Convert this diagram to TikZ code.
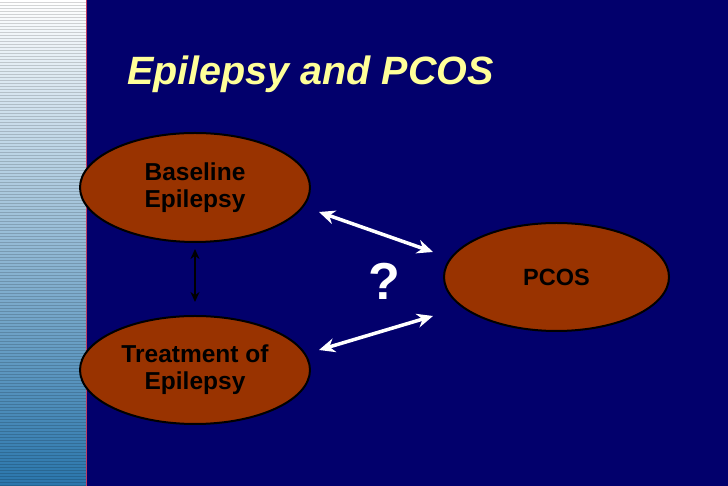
\documentclass[tikz,border=0pt]{standalone}
\usepackage{fontspec}
\setmainfont{Liberation Sans}
\usetikzlibrary{arrows.meta,shapes.geometric}
\definecolor{navy}{RGB}{2,0,108}
\definecolor{rust}{RGB}{153,51,0}
\definecolor{titleyellow}{RGB}{255,255,153}
\definecolor{stripblue}{RGB}{42,118,172}
\definecolor{stripmid}{RGB}{168,198,222}
\definecolor{edgered}{RGB}{190,60,100}
\begin{document}
\begin{tikzpicture}[x=1pt,y=1pt,line cap=round,line join=round,
  oval/.style={ellipse,draw=black,line width=2pt,fill=rust,inner sep=0pt,align=center,
    font=\bfseries\fontsize{24.5}{27}\selectfont,text=black},
  link/.style={<->,>={Stealth[length=16pt,width=14pt]},draw=white,line width=3.5pt}]
\useasboundingbox (0,0) rectangle (728,486);
% background and side strip
\fill[navy] (0,0) rectangle (728,486);
\shade[top color=white,middle color=stripmid,bottom color=stripblue] (0,0) rectangle (86,486);
\foreach \y in {0,3,...,486}
  \draw[black,opacity=0.16,line width=1pt,line cap=butt] (0,\y) -- (86,\y);
\draw[edgered,line width=1.5pt,line cap=butt] (86.5,0) -- (86.5,486);
% title
\node[anchor=base west,text=titleyellow,font=\bfseries\itshape\fontsize{39.5}{42}\selectfont,inner sep=0pt] (title) at (127,401) {Epilepsy and PCOS};
% ovals
\node[oval,minimum width=230pt,minimum height=109pt] (base) at (195,298.5) {Baseline\\Epilepsy};
\node[oval,minimum width=230pt,minimum height=108pt] (treat) at (195,116) {Treatment of\\Epilepsy};
\node[oval,minimum width=225pt,minimum height=108pt,font=\bfseries\fontsize{23.5}{26}\selectfont] (pcos) at (556.5,209) {PCOS};
\node[text=white,font=\bfseries\fontsize{52}{54}\selectfont,inner sep=0pt] (q) at (384,205) {?};
% links
\coordinate (bOut) at (319,274);
\coordinate (pTop) at (433,234);
\coordinate (tOut) at (319,136);
\coordinate (pLow) at (433,170);
\draw[link] (bOut) -- (pTop);
\draw[link] (tOut) -- (pLow);
\draw[<->,>={Stealth[length=10pt,width=9pt]},line width=2.5pt,shorten <=6pt,shorten >=13pt] (base.south) -- (treat.north);
\end{tikzpicture}
\end{document}
